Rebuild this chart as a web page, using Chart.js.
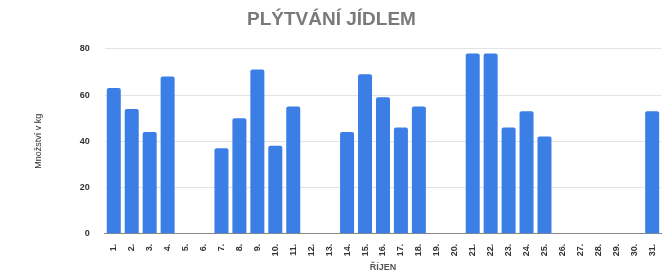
<!DOCTYPE html>
<html>
<head>
<meta charset="utf-8">
<script src="https://cdn.jsdelivr.net/npm/chart.js@4"></script>
<style>
  html, body { margin: 0; padding: 0; background: #fff; }
  #wrap { width: 665px; height: 275px; }
</style>
</head>
<body>
<div id="wrap"><canvas id="foodChart"></canvas></div>
<script>
// October days
const days = ['1.', '2.', '3.', '4.', '5.', '6.', '7.', '8.', '9.', '10.',
    '11.', '12.', '13.', '14.', '15.', '16.', '17.', '18.', '19.', '20.',
    '21.', '22.', '23.', '24.', '25.', '26.', '27.', '28.', '29.', '30.', '31.'];
// wasted food in kg (empty days = null)
const wasteKg = [63, 54, 44, 68, null, null, 37, 50, 71, 38,
    55, null, null, 44, 69, 59, 46, 55, null, null,
    78, 78, 46, 53, 42, null, null, null, null, null, 53];
const yTicks = [0, 20, 40, 60, 80];

const ctx = document.getElementById('foodChart').getContext('2d');

new Chart(ctx, {
    type: 'bar',
    data: {
        labels: days,
        datasets: [{
            label: 'Množství v kg',
            data: wasteKg,
            backgroundColor: '#3a7ee6',
            borderRadius: 2,
            borderSkipped: 'bottom',
            barPercentage: 0.78,
            categoryPercentage: 1
        }]
    },
    options: {
        responsive: true,
        maintainAspectRatio: false,
        animation: false,
        layout: { padding: { left: 0, right: 2, top: 4, bottom: 2 } },
        plugins: {
            legend: { display: false },
            tooltip: { enabled: false },
            title: {
                display: true,
                text: 'PLÝTVÁNÍ JÍDLEM',
                color: '#7a7a7a',
                font: { family: 'Arial, Liberation Sans, sans-serif', size: 19, weight: 'bold' },
                padding: { top: 4, bottom: 18 }
            }
        },
        scales: {
            x: {
                grid: { display: false },
                border: { color: '#888' },
                ticks: {
                    color: '#333',
                    minRotation: 90,
                    maxRotation: 90,
                    autoSkip: false,
                    padding: 2,
                    font: { family: 'Arial, Liberation Sans, sans-serif', size: 9, weight: 'bold' }
                },
                title: {
                    display: true,
                    text: 'ŘÍJEN',
                    color: '#555',
                    padding: { top: 4, bottom: 0 },
                    font: { family: 'Arial, Liberation Sans, sans-serif', size: 9, weight: 'bold' }
                }
            },
            y: {
                min: 0,
                max: 80,
                afterBuildTicks: axis => { axis.ticks = yTicks.map(v => ({ value: v })); },
                grid: { color: '#e3e3e3', drawTicks: false },
                border: { display: false },
                ticks: {
                    color: '#333',
                    padding: 15,
                    font: { family: 'Arial, Liberation Sans, sans-serif', size: 9, weight: 'bold' }
                },
                title: {
                    display: true,
                    text: 'Množství v kg',
                    color: '#333',
                    padding: { top: 33, bottom: 21 },
                    font: { family: 'Arial, Liberation Sans, sans-serif', size: 9 }
                }
            }
        }
    }
});
</script>
</body>
</html>
